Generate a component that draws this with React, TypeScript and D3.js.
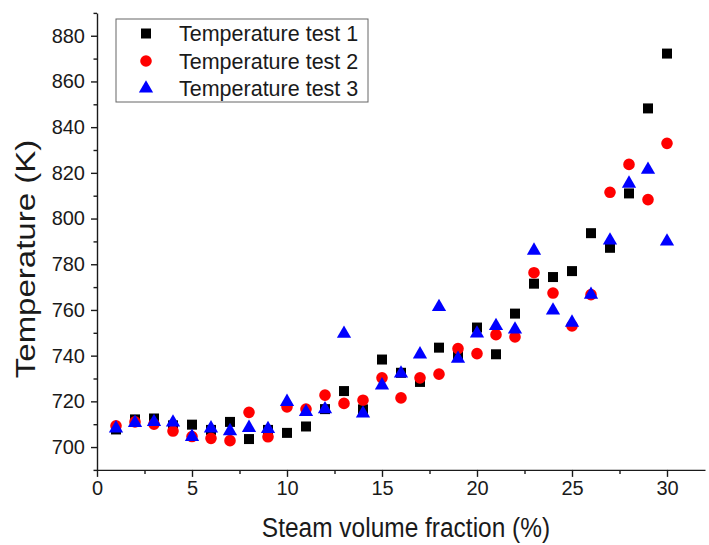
import React, { useEffect, useRef } from "react";
import * as d3 from "d3";

const steamFraction = [1, 2, 3, 4, 5, 6, 7, 8, 9, 10, 11, 12, 13, 14, 15, 16, 17, 18, 19, 20, 21, 22, 23, 24, 25, 26, 27, 28, 29, 30];
const test1 = [707.7, 712.1, 712.5, 709.5, 709.8, 707.5, 711, 703.5, 707.5, 706.2, 709, 716.6, 724.5, 716.5, 738.3, 732.5, 728.5, 743.5, 740, 752.3, 740.6, 758.4, 771.5, 774.4, 777, 793.6, 787.2, 811, 848.2, 872.2];
const test2 = [709.3, 711, 710, 707, 704.6, 703.8, 702.8, 715.2, 704.5, 717.6, 716.6, 722.7, 719.1, 720.5, 730.3, 721.5, 730.3, 731.9, 743.1, 740.9, 749.2, 748.2, 776.3, 767.4, 753, 766.7, 811.5, 823.7, 808.3, 832.9];
const test3 = [708.2, 710.6, 711, 710.8, 704.5, 708.2, 707, 708.4, 707.9, 719.8, 715.4, 716.6, 749.6, 714.7, 727, 732.2, 740.6, 761.3, 738.7, 749.7, 753, 751.5, 786, 759.8, 754.5, 766.7, 790.4, 815.3, 821.4, 790];

const seriesNames = ["Temperature test 1", "Temperature test 2", "Temperature test 3"];
const seriesColors = ["#000000", "#ff0000", "#0000ff"];
const xMajorTicks = [0, 5, 10, 15, 20, 25, 30];
const xMinorTicks = [2.5, 7.5, 12.5, 17.5, 22.5, 27.5];
const yMajorTicks = [700, 720, 740, 760, 780, 800, 820, 840, 860, 880];
const yMinorTicks = [690, 710, 730, 750, 770, 790, 810, 830, 850, 870, 890];
const xTitle = "Steam volume fraction (%)";
const yTitle = "Temperature (K)";

const FONT = "Arial, 'Liberation Sans', sans-serif";

export default function App() {
  const ref = useRef<SVGSVGElement>(null);
  useEffect(() => {
    const svg = d3.select(ref.current);
    svg.selectAll("*").remove();
    const x = d3.scaleLinear().domain([0, 32]).range([97, 705]);
    const y = d3.scaleLinear().domain([690, 890]).range([469.9, 12.9]);

    const symbols = [
      d3.symbol().type(d3.symbolSquare).size(100),
      d3.symbol().type(d3.symbolCircle).size(106),
      d3.symbol().type(d3.symbolTriangle).size(88),
    ];
    const series = [test1, test2, test3];

    // axes
    const xAxis = svg.append("g").attr("transform", `translate(0,${y(690)})`)
      .call(d3.axisBottom(x).tickValues(xMajorTicks).tickSize(7).tickSizeOuter(0).tickPadding(4).tickFormat(d3.format("d")));
    svg.append("g").attr("transform", `translate(0,${y(690)})`)
      .call(d3.axisBottom(x).tickValues(xMinorTicks).tickSize(4).tickSizeOuter(0).tickFormat(() => ""))
      .select(".domain").remove();
    const yAxis = svg.append("g").attr("transform", `translate(${x(0)},0)`)
      .call(d3.axisLeft(y).tickValues(yMajorTicks).tickSize(6).tickSizeOuter(0).tickPadding(6).tickFormat(d3.format("d")));
    svg.append("g").attr("transform", `translate(${x(0)},0)`)
      .call(d3.axisLeft(y).tickValues(yMinorTicks).tickSize(3.5).tickSizeOuter(0).tickFormat(() => ""))
      .select(".domain").remove();

    svg.selectAll(".domain").attr("stroke", "#1a1a1a").attr("stroke-width", 1.4);
    svg.selectAll(".tick line").attr("stroke", "#1a1a1a").attr("stroke-width", 1.4);
    xAxis.selectAll("text").attr("font-size", 20).attr("font-family", FONT).attr("fill", "#1a1a1a");
    yAxis.selectAll("text").attr("font-size", 20).attr("font-family", FONT).attr("fill", "#1a1a1a");

    // titles
    svg.append("text").attr("transform", "translate(406,537) scale(1.02,1.15)").attr("text-anchor", "middle")
      .attr("font-size", 24).attr("font-family", FONT).attr("fill", "#1a1a1a").text(xTitle);
    svg.append("text").attr("transform", `translate(35,259) rotate(-90) scale(1.27,1.05)`).attr("text-anchor", "middle")
      .attr("font-size", 26).attr("font-family", FONT).attr("fill", "#1a1a1a").text(yTitle);

    // points
    series.forEach((vals, i) => {
      svg.append("g").selectAll("path").data(vals).join("path")
        .attr("d", symbols[i]() as string)
        .attr("transform", (d, j) => `translate(${x(steamFraction[j])},${y(d)})`)
        .attr("fill", seriesColors[i]);
    });

    // legend
    const lg = svg.append("g");
    lg.append("rect").attr("x", 116).attr("y", 19).attr("width", 252).attr("height", 83)
      .attr("fill", "white").attr("stroke", "#666").attr("stroke-width", 1);
    seriesNames.forEach((name, i) => {
      const cy = 33.5 + i * 27.5;
      lg.append("path").attr("d", symbols[i]() as string).attr("transform", `translate(146,${cy})`).attr("fill", seriesColors[i]);
      lg.append("text").attr("x", 179).attr("y", cy + 7.5).attr("font-size", 21.5).attr("font-family", FONT).attr("fill", "#1a1a1a").text(name);
    });
  }, []);
  return (
    <svg ref={ref} width={709} height={545} style={{ position: "absolute", left: 0, top: 0, background: "white" }} />
  );
}
